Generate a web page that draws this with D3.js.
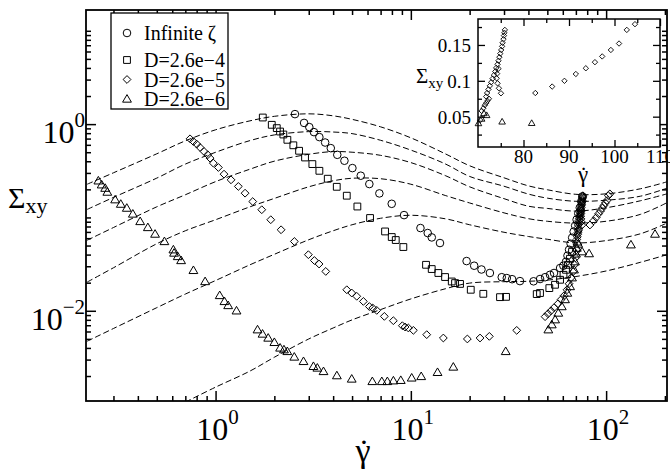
<!DOCTYPE html>
<html>
<head>
<meta charset="utf-8">
<script src="https://cdn.jsdelivr.net/npm/d3@7"></script>
<style>
  body { margin: 0; background: #fff; }
  svg text { font-family: "Liberation Serif", "Times New Roman", serif; fill: #000; }
</style>
</head>
<body>
<svg id="chart" width="670" height="470"></svg>
<script>
// ---- flow curves (dashed), sampled on a common shear-rate grid ----
const curveRate = [0.22, 0.3, 0.5, 0.7, 1, 1.5, 2, 3, 4, 5, 7, 10, 15, 20, 30, 40, 50, 70, 100, 150, 205];
const curve1 = [0.227, 0.301, 0.481, 0.662, 0.869, 1.084, 1.212, 1.289, 1.227, 1.125, 0.935, 0.713, 0.481, 0.358, 0.266, 0.218, 0.198, 0.177, 0.179, 0.203, 0.241];
const curve2 = [0.122, 0.164, 0.264, 0.373, 0.499, 0.666, 0.766, 0.831, 0.823, 0.791, 0.671, 0.527, 0.375, 0.275, 0.216, 0.178, 0.161, 0.149, 0.153, 0.169, 0.206];
const curve3 = [0.057, 0.078, 0.130, 0.175, 0.242, 0.329, 0.401, 0.475, 0.508, 0.500, 0.463, 0.387, 0.281, 0.213, 0.159, 0.132, 0.125, 0.117, 0.127, 0.151, 0.179];
const curve4 = [0.0203, 0.0289, 0.0523, 0.072, 0.0945, 0.130, 0.160, 0.213, 0.247, 0.263, 0.260, 0.227, 0.172, 0.143, 0.112, 0.097, 0.091, 0.087, 0.091, 0.108, 0.144];
const curve5 = [0.00472, 0.00646, 0.0108, 0.0151, 0.0211, 0.0311, 0.0403, 0.0577, 0.0720, 0.0835, 0.098, 0.1055, 0.0968, 0.0835, 0.0694, 0.0625, 0.0584, 0.0534, 0.0565, 0.0669, 0.0871];
const curve6 = [null, null, null, 0.00105, 0.00152, 0.00226, 0.00318, 0.00499, 0.00654, 0.00799, 0.0103, 0.0134, 0.0172, 0.0198, 0.0205, 0.0207, 0.0213, 0.0233, 0.0267, 0.0331, 0.0399];

// ---- Infinite zeta (circles) ----
const infRate = [2.55, 2.84, 3.02, 3.19, 3.40, 3.64, 3.89, 4.20, 4.57, 5.02, 5.54, 6.13, 6.90, 7.98, 9.23, 11.2, 12.2, 12.8, 14.1,
  19.3, 21.1, 23.0, 25.4, 29.2, 31.0, 33.0, 36.2, 42.5, 45.9, 48.7, 51.6, 54.1, 58.1, 60.4, 62.3,
  63.4, 64.6, 65.8, 67.0, 68.2, 69.4, 70.6, 72.0, 73.3, 74.6, 75.6];
const infStress = [1.28, 1.03, 0.929, 0.821, 0.726, 0.635, 0.553, 0.469, 0.405, 0.338, 0.280, 0.228, 0.181, 0.140, 0.106, 0.0770, 0.0681, 0.0611, 0.0532,
  0.0341, 0.0304, 0.0277, 0.0254, 0.0229, 0.0224, 0.0218, 0.0208, 0.0207, 0.0219, 0.0229, 0.0243, 0.0254, 0.0287, 0.0304, 0.0335,
  0.0389, 0.0451, 0.0523, 0.0607, 0.0704, 0.0816, 0.0947, 0.110, 0.127, 0.148, 0.168];

// ---- D = 2.6e-4 (squares) ----
const d4Rate = [1.745, 1.940, 2.058, 2.139, 2.224, 2.332, 2.502, 2.677, 2.872, 3.131, 3.401, 3.754, 4.175, 4.698, 5.323, 6.182, 7.379, 7.983, 8.37, 9.155,
  11.96, 12.79, 13.83, 14.97, 16.20, 16.84, 17.86, 20.27, 23.50, 28.62, 30.72, 44.12, 45.86, 51.19, 54.73, 58.1, 60.5, 62.3, 63.8, 65.3, 66.9];
const d4Stress = [1.177, 0.983, 0.906, 0.833, 0.774, 0.679, 0.593, 0.518, 0.439, 0.373, 0.316, 0.260, 0.213, 0.171, 0.131, 0.0986, 0.0708, 0.0617, 0.0573, 0.0482,
  0.0311, 0.0280, 0.0254, 0.0230, 0.0206, 0.0198, 0.0194, 0.0168, 0.0152, 0.0140, 0.0141, 0.0151, 0.0155, 0.0175, 0.0190, 0.0215, 0.0243, 0.0275, 0.0311, 0.0361, 0.0429];

// ---- D = 2.6e-5 (diamonds) ----
const d5Rate = [0.740, 0.770, 0.801, 0.833, 0.873, 0.912, 0.937, 0.974, 1.034, 1.105, 1.200, 1.308, 1.416, 1.550, 1.724, 1.917, 2.165, 2.532,
  2.987, 3.206, 3.388, 3.667, 4.698, 4.982, 5.284, 5.713, 6.133, 6.381, 6.689, 7.316, 8.135, 9.047, 9.34, 9.71, 10.30, 12.06, 14.67, 19.47, 22.61, 25.23,
  34.85, 48.7, 50.4, 52.2, 54.1, 56.7, 58.8, 60.9, 63.1, 64.6, 66.1, 67.7, 68.9, 69.7, 70.5,
  70.8, 71.2, 71.5, 71.8, 72.1, 72.4, 71.8, 72.0, 72.3, 72.6, 72.9, 73.2, 73.5, 73.8, 74.0, 74.3, 74.5, 74.7, 74.9, 75.1, 75.3, 75.4, 75.6, 75.7, 75.8, 75.9,
  75.05, 74.6, 74.3, 74.1, 74.2, 74.5,
  82.6, 86.3, 89.0, 91.5, 93.7, 95.7, 97.3, 99.2, 101.0, 102.7, 104.5];
const d5Stress = [0.696, 0.651, 0.611, 0.562, 0.509, 0.469, 0.432, 0.382, 0.343, 0.291, 0.253, 0.215, 0.182, 0.148, 0.121, 0.0945, 0.0738, 0.0553,
  0.0399, 0.0346, 0.0317, 0.0264, 0.0168, 0.0155, 0.0143, 0.0126, 0.0111, 0.0107, 0.0101, 0.00871, 0.00783, 0.00692, 0.0067, 0.00654, 0.00617, 0.00555, 0.00511, 0.00499, 0.00511, 0.00532,
  0.00617, 0.00865, 0.0093, 0.0100, 0.0108, 0.0119, 0.0132, 0.0145, 0.0168, 0.0195, 0.0226, 0.0262, 0.0311, 0.0370, 0.0451,
  0.058, 0.062, 0.066, 0.069, 0.072, 0.075, 0.078, 0.083, 0.088, 0.093, 0.098, 0.103, 0.108, 0.113, 0.118, 0.123, 0.128, 0.133, 0.138, 0.143, 0.148, 0.153, 0.158, 0.163, 0.167, 0.171,
  0.0826, 0.0896, 0.0965, 0.1035, 0.110, 0.117,
  0.083, 0.092, 0.100, 0.1095, 0.1175, 0.126, 0.134, 0.143, 0.152, 0.171, 0.179];

// ---- D = 2.6e-6 (triangles) ----
const d6Rate = [0.251, 0.261, 0.272, 0.279, 0.306, 0.327, 0.351, 0.377, 0.411, 0.450, 0.490, 0.547, 0.608, 0.613, 0.640, 0.666, 0.770, 0.884,
  1.05, 1.11, 1.16, 1.28, 1.64, 1.74, 1.86, 2.00, 2.14, 2.24, 2.33, 2.53, 2.82, 3.17, 3.32, 3.57, 4.18, 4.98, 6.35, 7.10, 7.58, 8.14, 8.88,
  10.1, 11.3, 13.7, 16.5, 30.6, 50.6, 52.7, 54.8, 56.9, 59.3, 61.6, 63.3, 65.4, 66.9, 68.5, 69.3, 70.1, 70.8, 71.3, 71.9, 75.3, 81.8, 134, 178];
const d6Stress = [0.247, 0.224, 0.206, 0.187, 0.155, 0.139, 0.126, 0.109, 0.0906, 0.0781, 0.0664, 0.0553, 0.0451, 0.0416, 0.0382, 0.0346, 0.0271, 0.0206,
  0.0146, 0.0126, 0.0114, 0.0100, 0.00627, 0.00564, 0.00511, 0.00459, 0.00400, 0.00383, 0.00367, 0.00320, 0.00287, 0.00254, 0.00244, 0.00224, 0.00202, 0.00186, 0.00175, 0.00175, 0.00175, 0.00178, 0.00180,
  0.00191, 0.00198, 0.00219, 0.00250, 0.00367, 0.00627, 0.00710, 0.00803, 0.00947, 0.0111, 0.0132, 0.0155, 0.0182, 0.0226, 0.0275, 0.0336, 0.0407, 0.0470, 0.0547, 0.0520, 0.0430, 0.0410, 0.0510, 0.0664];

// ---- legend and tick labels ----
const seriesNames = ["Infinite \u03B6", "D=2.6e\u22124", "D=2.6e\u22125", "D=2.6e\u22126"];
const seriesShapes = ["circle", "square", "diamond", "triangle"];
const xMajor = [1, 10, 100];
const xMajorExp = ["0", "1", "2"];
const yMajor = [0.01, 1];
const yMajorExp = ["\u22122", "0"];
const insetXTicks = [80, 90, 100, 110];
const insetXMinor = [75, 85, 95, 105];
const insetYTicks = [0.05, 0.1, 0.15];
const insetYLabels = ["0.05", "0.1", "0.15"];
const insetYMinor = [0.025, 0.075, 0.125, 0.175];

const svg = d3.select("#chart");

// main plot frame
const L = 86, R = 667, T = 10, B = 401;
const x = d3.scaleLog().domain([0.217, 205]).range([L, R]);
const y = d3.scaleLog().domain([0.00108, 16.7]).range([B, T]);

function minorLog(domain, skipMajor) {
  const out = [];
  for (let e = -4; e <= 3; e++) {
    for (let k = 1; k <= 9; k++) {
      const v = k * Math.pow(10, e);
      if (v >= domain[0] && v <= domain[1] && !skipMajor.some(m => Math.abs(m - v) / m < 1e-9)) out.push(v);
    }
  }
  return out;
}
const xMinor = minorLog(x.domain(), xMajor);
const yMinor = minorLog(y.domain(), yMajor);

function markerPath(shape, r) {
  switch (shape) {
    case "circle": return `M${-r},0a${r},${r} 0 1,0 ${2 * r},0a${r},${r} 0 1,0 ${-2 * r},0Z`;
    case "square": return `M${-r},${-r}h${2 * r}v${2 * r}h${-2 * r}Z`;
    case "diamond": return `M0,${-r}L${r},0L0,${r}L${-r},0Z`;
    default: return `M0,${-r}L${r},${r * 0.72}L${-r},${r * 0.72}Z`;
  }
}
const mainSize = { circle: 3.8, square: 3.4, diamond: 3.9, triangle: 4.4 };

const defs = svg.append("defs");
defs.append("clipPath").attr("id", "mainClip")
  .append("rect").attr("x", L).attr("y", T).attr("width", R - L).attr("height", B - T);

// dashed model curves
const curves = [curve1, curve2, curve3, curve4, curve5, curve6];
const line = d3.line()
  .defined(d => d[1] != null)
  .x(d => x(d[0])).y(d => y(d[1]))
  .curve(d3.curveCatmullRom.alpha(0.5));
svg.append("g").attr("clip-path", "url(#mainClip)")
  .selectAll("path").data(curves).join("path")
  .attr("d", c => line(d3.zip(curveRate, c)))
  .attr("fill", "none").attr("stroke", "#000").attr("stroke-width", 1)
  .attr("stroke-dasharray", "6,3");

// data markers
const series = [
  { shape: "circle", pts: d3.zip(infRate, infStress) },
  { shape: "square", pts: d3.zip(d4Rate, d4Stress) },
  { shape: "diamond", pts: d3.zip(d5Rate, d5Stress) },
  { shape: "triangle", pts: d3.zip(d6Rate, d6Stress) }
];
const mk = svg.append("g");
series.forEach(s => {
  mk.append("g").selectAll("path").data(s.pts).join("path")
    .attr("transform", d => `translate(${x(d[0])},${y(d[1])})`)
    .attr("d", markerPath(s.shape, mainSize[s.shape]))
    .attr("fill", "none").attr("stroke", "#000").attr("stroke-width", 1);
});

// axes with inward ticks on all four sides
function tickAxis(axisFn, scale, values, size, transform) {
  svg.append("g").attr("transform", transform)
    .call(axisFn(scale).tickValues(values).tickSize(size).tickFormat(""))
    .call(g => g.select(".domain").remove())
    .call(g => g.selectAll("line").attr("stroke", "#000").attr("stroke-width", 1.5));
}
tickAxis(d3.axisBottom, x, xMajor, -10, `translate(0,${B})`);
tickAxis(d3.axisBottom, x, xMinor, -5, `translate(0,${B})`);
tickAxis(d3.axisTop, x, xMajor, -10, `translate(0,${T})`);
tickAxis(d3.axisTop, x, xMinor, -5, `translate(0,${T})`);
tickAxis(d3.axisLeft, y, yMajor, -10, `translate(${L},0)`);
tickAxis(d3.axisLeft, y, yMinor, -5, `translate(${L},0)`);
tickAxis(d3.axisRight, y, yMajor, -10, `translate(${R},0)`);
tickAxis(d3.axisRight, y, yMinor, -5, `translate(${R},0)`);

svg.append("rect").attr("x", L).attr("y", T).attr("width", R - L).attr("height", B - T)
  .attr("fill", "none").attr("stroke", "#000").attr("stroke-width", 1.8);

// power-of-ten labels
function powLabel(px, py, exp, anchor) {
  const t = svg.append("text").attr("x", px).attr("y", py).attr("text-anchor", anchor)
    .style("font-size", "32px");
  t.append("tspan").text("10");
  t.append("tspan").attr("dy", -16).style("font-size", "21px").text(exp);
}
xMajor.forEach((v, i) => powLabel(x(v) + 2, 440, xMajorExp[i], "middle"));
yMajor.forEach((v, i) => powLabel(85, y(v) + 19, yMajorExp[i], "end"));

// gamma-dot title: one text element, the dot accent shifted back over the letter
function gammaDot(cx, base, size) {
  const t = svg.append("text").attr("x", cx).attr("y", base).style("font-size", size + "px");
  const g = t.append("tspan").text("\u03B3");
  const d = t.append("tspan").text("\u02D9");
  const gw = g.node().getComputedTextLength();
  const dw = d.node().getComputedTextLength();
  t.attr("x", cx - gw / 2);
  d.attr("dx", -(gw + dw) / 2 + size * 0.03).attr("dy", size * 0.03);
}

// axis titles
const yt = svg.append("text").attr("x", 8).attr("y", 208).style("font-size", "30px");
yt.append("tspan").text("\u03A3");
yt.append("tspan").attr("dy", 5).style("font-size", "22px").text("xy");
gammaDot(363, 462, 34);

// legend
const lg = svg.append("g");
lg.append("rect").attr("x", 111).attr("y", 13).attr("width", 117).attr("height", 96)
  .attr("fill", "#fff").attr("stroke", "#000").attr("stroke-width", 1.3);
const rowY = [33, 60, 79.5, 99];
seriesNames.forEach((name, i) => {
  lg.append("path").attr("transform", `translate(127,${rowY[i]})`)
    .attr("d", markerPath(seriesShapes[i], mainSize[seriesShapes[i]]))
    .attr("fill", "none").attr("stroke", "#000").attr("stroke-width", 1);
  lg.append("text").attr("x", 144).attr("y", rowY[i] + 7).style("font-size", "20px").text(name);
});

// ---- inset: linear close-up of the spurt region ----
const iL = 478, iR = 660, iT = 19, iB = 147;
const xi = d3.scaleLinear().domain([70, 110]).range([iL, iR]);
const yi = d3.scaleLinear().domain([0.0077, 0.1862]).range([iB, iT]);
svg.append("rect").attr("x", iL).attr("y", iT).attr("width", iR - iL).attr("height", iB - iT).attr("fill", "#fff");
defs.append("clipPath").attr("id", "insetClip")
  .append("rect").attr("x", iL - 4).attr("y", iT - 4).attr("width", iR - iL + 8).attr("height", iB - iT + 8);
const ig = svg.append("g").attr("clip-path", "url(#insetClip)");
const insetSeries = [
  { shape: "diamond", r: 2.7, pts: d3.zip(d5Rate, d5Stress) },
  { shape: "triangle", r: 3.3, pts: d3.zip(d6Rate, d6Stress) }
];
insetSeries.forEach(s => {
  ig.append("g").selectAll("path")
    .data(s.pts.filter(d => d[0] >= 70 && d[0] <= 110.5 && d[1] >= 0.0077 && d[1] <= 0.1862))
    .join("path")
    .attr("transform", d => `translate(${xi(Math.min(d[0], 110))},${yi(d[1])})`)
    .attr("d", markerPath(s.shape, s.r))
    .attr("fill", "none").attr("stroke", "#000").attr("stroke-width", 0.9);
});

function insetAxis(axisFn, scale, values, size, transform) {
  svg.append("g").attr("transform", transform)
    .call(axisFn(scale).tickValues(values).tickSize(size).tickFormat(""))
    .call(g => g.select(".domain").remove())
    .call(g => g.selectAll("line").attr("stroke", "#000").attr("stroke-width", 1.3));
}
insetAxis(d3.axisBottom, xi, insetXTicks, -7, `translate(0,${iB})`);
insetAxis(d3.axisBottom, xi, insetXMinor, -4, `translate(0,${iB})`);
insetAxis(d3.axisTop, xi, insetXTicks, -7, `translate(0,${iT})`);
insetAxis(d3.axisTop, xi, insetXMinor, -4, `translate(0,${iT})`);
insetAxis(d3.axisLeft, yi, insetYTicks, -7, `translate(${iL},0)`);
insetAxis(d3.axisLeft, yi, insetYMinor, -4, `translate(${iL},0)`);
insetAxis(d3.axisRight, yi, insetYTicks, -7, `translate(${iR},0)`);
insetAxis(d3.axisRight, yi, insetYMinor, -4, `translate(${iR},0)`);
svg.append("rect").attr("x", iL).attr("y", iT).attr("width", iR - iL).attr("height", iB - iT)
  .attr("fill", "none").attr("stroke", "#000").attr("stroke-width", 1.5);

svg.selectAll(null).data(insetXTicks).join("text")
  .attr("x", d => xi(d)).attr("y", 163).attr("text-anchor", "middle")
  .style("font-size", "19px").text(d => d);
svg.selectAll(null).data(insetYTicks).join("text")
  .attr("x", 471).attr("y", d => yi(d) + 7).attr("text-anchor", "end")
  .style("font-size", "19px").text((d, i) => insetYLabels[i]);

const iyt = svg.append("text").attr("x", 416).attr("y", 83).style("font-size", "21px");
iyt.append("tspan").text("\u03A3");
iyt.append("tspan").attr("dy", 5).style("font-size", "15px").text("xy");
gammaDot(583, 182, 23);
</script>
</body>
</html>
